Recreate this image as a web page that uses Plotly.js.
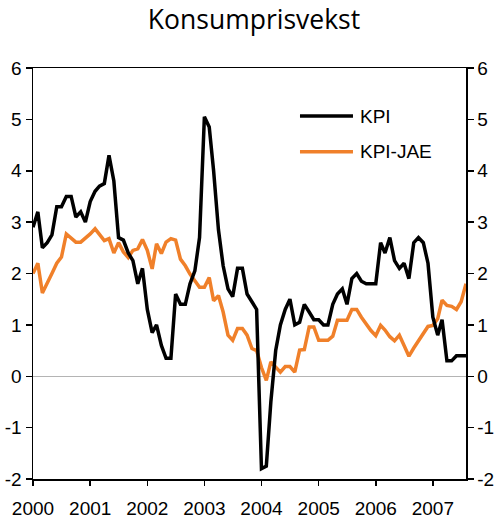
<!DOCTYPE html>
<html>
<head>
<meta charset="utf-8">
<script src="https://cdn.plot.ly/plotly-3.0.1.min.js"></script>
<style>
  html, body { margin: 0; padding: 0; background: #fff; }
  #chart { width: 500px; height: 522px; }
</style>
</head>
<body>
<div id="chart"></div>
<script>
// Monthly series, January 2000 to August 2007
const startYear = 2000;
const seriesNames = ['KPI', 'KPI-JAE'];
const kpi = [
  2.9, 3.2, 2.5, 2.6, 2.75, 3.3, 3.3, 3.5, 3.5, 3.1, 3.2, 3.0,
  3.4, 3.6, 3.7, 3.75, 4.3, 3.8, 2.7, 2.65, 2.4, 2.25, 1.8, 2.1,
  1.3, 0.85, 1.0, 0.6, 0.35, 0.35, 1.6, 1.4, 1.4, 1.8, 2.05, 2.7,
  5.05, 4.85, 4.0, 2.85, 2.15, 1.7, 1.55, 2.1, 2.1, 1.6, 1.45, 1.3,
  -1.8, -1.75, -0.5, 0.5, 1.0, 1.3, 1.5, 1.0, 1.05, 1.4, 1.25, 1.1,
  1.1, 1.0, 1.0, 1.4, 1.6, 1.7, 1.4, 1.9, 2.0, 1.85, 1.8, 1.8,
  1.8, 2.6, 2.4, 2.7, 2.25, 2.1, 2.2, 1.9, 2.6, 2.7, 2.6, 2.2,
  1.15, 0.8, 1.1, 0.3, 0.3, 0.4, 0.4, 0.4
];
const kpiJae = [
  2.0, 2.2, 1.62, 1.8, 2.0, 2.2, 2.32, 2.77, 2.68, 2.61, 2.61, 2.68,
  2.77, 2.87, 2.77, 2.64, 2.68, 2.4, 2.6, 2.42, 2.31, 2.45, 2.48, 2.66,
  2.45, 2.09, 2.58, 2.39, 2.61, 2.68, 2.65, 2.28, 2.15, 1.99, 1.86, 1.73,
  1.73, 1.92, 1.47, 1.57, 1.25, 0.8, 0.7, 0.93, 0.93, 0.8, 0.54, 0.5,
  0.17, -0.08, 0.28, 0.18, 0.08, 0.19, 0.19, 0.08, 0.51, 0.52, 0.96, 0.96,
  0.7, 0.7, 0.7, 0.78, 1.09, 1.09, 1.09, 1.3, 1.3, 1.15, 1.02, 0.89,
  0.79, 0.99, 0.9, 0.77, 0.69, 0.8, 0.6, 0.39, 0.55, 0.68, 0.83, 0.97,
  0.99, 1.12, 1.48, 1.38, 1.36, 1.3, 1.45, 1.8
];
const xTickVals = ['2000-01-01','2001-01-01','2002-01-01','2003-01-01','2004-01-01','2005-01-01','2006-01-01','2007-01-01'];
const xTickLabels = ['2000','2001','2002','2003','2004','2005','2006','2007'];
const yTickVals = [-2, -1, 0, 1, 2, 3, 4, 5, 6];
const yTickLabels = ['-2', '-1', '0', '1', '2', '3', '4', '5', '6'];
const titleText = 'Konsumprisvekst';

const months = kpi.map((_, i) => {
  const y = startYear + Math.floor(i / 12);
  const m = (i % 12) + 1;
  return y + '-' + String(m).padStart(2, '0') + '-01';
});

const colors = ['#000000', '#f0802a'];
const fontFam = '"Liberation Sans", Arial, sans-serif';

const traces = [
  { x: months, y: kpiJae, type: 'scatter', mode: 'lines', name: seriesNames[1],
    line: { color: colors[1], width: 3.5 }, showlegend: false, hoverinfo: 'skip' },
  { x: months, y: kpi, type: 'scatter', mode: 'lines', name: seriesNames[0],
    line: { color: colors[0], width: 3.5 }, showlegend: false, hoverinfo: 'skip' },
  // invisible trace to register the right-hand axis
  { x: months, y: kpi, type: 'scatter', mode: 'lines', yaxis: 'y2',
    line: { color: 'rgba(0,0,0,0)', width: 0 }, showlegend: false, hoverinfo: 'skip' }
];

const legendY = [0.883, 0.796];
const shapes = [];
const annotations = [];
seriesNames.forEach((name, k) => {
  shapes.push({ type: 'line', xref: 'paper', yref: 'paper',
    x0: 0.6166, x1: 0.739, y0: legendY[k], y1: legendY[k],
    line: { color: colors[k], width: 3.5 } });
  annotations.push({ xref: 'paper', yref: 'paper', x: 0.7506, y: legendY[k],
    xanchor: 'left', yanchor: 'middle', text: name, showarrow: false,
    font: { family: fontFam, size: 19, color: '#000' } });
});

const yCommon = {
  range: [-2, 6], tickmode: 'array', tickvals: yTickVals, ticktext: yTickLabels,
  ticks: 'outside', ticklen: 6, tickwidth: 1.5, tickcolor: '#000',
  showline: true, linecolor: '#000', linewidth: 1.5, showgrid: false,
  tickfont: { family: fontFam, size: 19, color: '#000' }, fixedrange: true
};

const layout = {
  width: 500, height: 522,
  margin: { l: 33, r: 34, t: 68, b: 43, pad: 0 },
  paper_bgcolor: '#fff', plot_bgcolor: '#fff',
  title: { text: titleText, x: 0.508, xref: 'container', xanchor: 'center',
    y: 0.962, yref: 'container', yanchor: 'middle',
    font: { family: '"Open Sans", sans-serif', size: 26.5, color: '#000' } },
  xaxis: {
    type: 'date', range: ['2000-01-01', '2007-08-01'],
    tickmode: 'array', tickvals: xTickVals, ticktext: xTickLabels,
    ticks: 'outside', ticklen: 5, tickwidth: 1.5, tickcolor: '#000',
    ticklabelstandoff: 7,
    showline: true, linecolor: '#000', linewidth: 1.5, mirror: true, showgrid: false,
    zeroline: false, tickfont: { family: fontFam, size: 19, color: '#000' }, fixedrange: true
  },
  yaxis: Object.assign({}, yCommon, { side: 'left', zeroline: true, zerolinecolor: '#b4b4b4', zerolinewidth: 1 }),
  yaxis2: Object.assign({}, yCommon, { side: 'right', overlaying: 'y', zeroline: false }),
  shapes: shapes,
  annotations: annotations,
  showlegend: false
};

Plotly.newPlot('chart', traces, layout, { staticPlot: true, displayModeBar: false });
</script>
</body>
</html>
